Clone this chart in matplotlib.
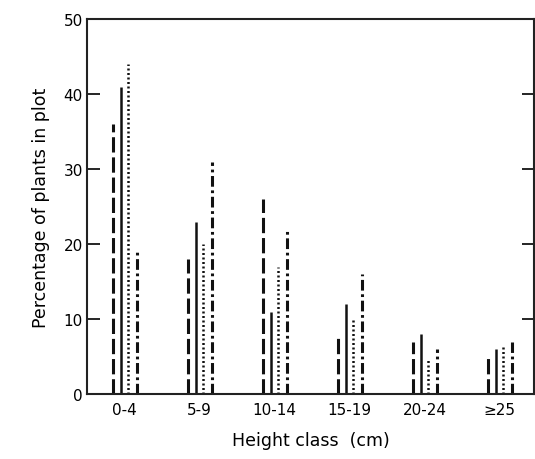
import matplotlib
matplotlib.use("Agg")
import matplotlib.pyplot as plt
import numpy as np

categories = ["0-4", "5-9", "10-14", "15-19", "20-24", "≥25"]
series_a = [36, 18, 26, 8, 7, 5]        # dashed
series_b = [41, 23, 11, 12, 8, 6]       # solid
series_c = [44, 20, 17, 10, 4.5, 6.5]   # dotted
series_d = [19, 31, 22, 16, 6, 7]       # dash-dot
y_ticks = [0, 10, 20, 30, 40, 50]

fig = plt.figure(figsize=(5.35, 4.6), dpi=100)
ax = fig.add_axes([87/535, 65/460, 447/535, 375/460])

x = np.arange(len(categories))
offsets = [-0.16, -0.053, 0.053, 0.16]
styles = [(0, (5, 1.6)), "solid", (0, (0.8, 1.0)), (0, (3.5, 1.2, 0.9, 1.2))]
widths = [2.2, 1.8, 1.8, 2.2]
for vals, off, ls, lw in zip([series_a, series_b, series_c, series_d], offsets, styles, widths):
    ax.vlines(x + off, 0, vals, colors="#111111", linewidth=lw, linestyles=ls)

ax.set_xlim(-0.5, 5.46)
ax.set_ylim(0, 50)
ax.set_yticks(y_ticks)
ax.set_xticks(x)
ax.set_xticklabels(categories, fontsize=11)
ax.tick_params(axis="x", length=0, pad=6)
ax.tick_params(axis="y", direction="in", length=9, width=1.2, labelsize=11, right=True, pad=3)
for s in ax.spines.values():
    s.set_linewidth(1.5)
    s.set_color("#222222")
ax.set_ylabel("Percentage of plants in plot", fontsize=12.5, labelpad=10)
ax.set_xlabel("Height class  (cm)", fontsize=12.5, labelpad=10)

fig.savefig("out.png", dpi=100)
